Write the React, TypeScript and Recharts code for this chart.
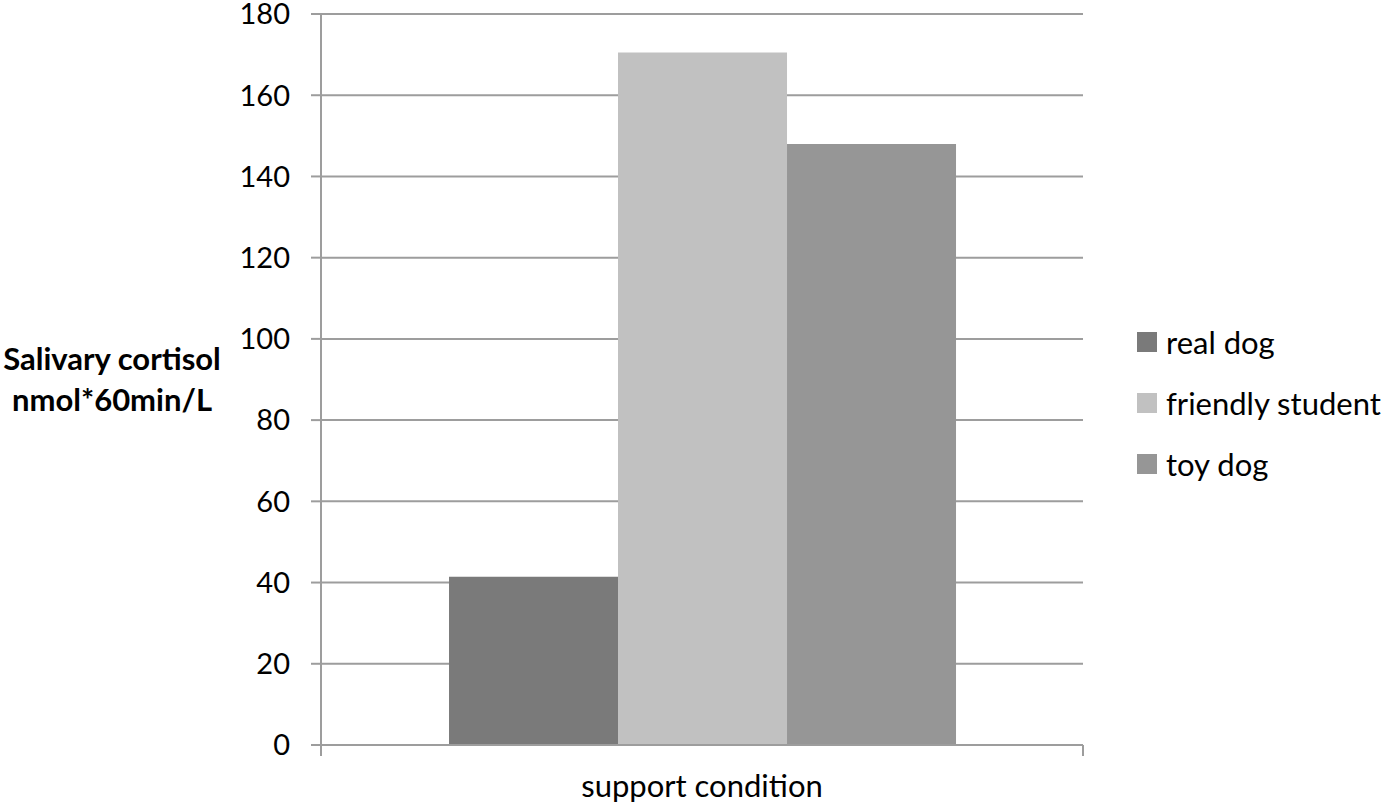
import {
  BarChart,
  Bar,
  XAxis,
  YAxis,
  CartesianGrid,
  Legend,
  Label
} from 'recharts'

const categories = ['support condition']
const seriesNames = ['real dog', 'friendly student', 'toy dog']
const seriesKeys = ['realDog', 'friendlyStudent', 'toyDog']
const seriesColors = ['#7a7a7a', '#c1c1c1', '#969696']
const realDog = [41.4]
const friendlyStudent = [170.5]
const toyDog = [148.0]
const yTicks = [0, 20, 40, 60, 80, 100, 120, 140, 160, 180]
const yTitle = ['Salivary cortisol', 'nmol*60min/L']

const seriesValues = [realDog, friendlyStudent, toyDog]

const data = categories.map((c, i) => {
  const row: Record<string, string | number> = { condition: c }
  seriesKeys.forEach((k, s) => {
    row[k] = seriesValues[s][i]
  })
  return row
})

const FONT = 'Lato, "Open Sans", sans-serif'
const GRID = '#9d9d9d'

// Excel style: tick marks at the category edges, label under the centre
const CategoryTick = (props: any) => {
  const { x, y, payload } = props
  const half = payload?.offset ?? 0
  return (
    <g>
      {half > 0 && (
        <>
          <line x1={x - half} x2={x - half} y1={y} y2={y + 11} stroke={GRID} strokeWidth={2} />
          <line x1={x + half} x2={x + half} y1={y} y2={y + 11} stroke={GRID} strokeWidth={2} />
        </>
      )}
      <text x={x} y={y + 52} textAnchor='middle' fontSize={31} fill='#000' fontFamily={FONT}>
        {payload.value}
      </text>
    </g>
  )
}

const YTitle = (props: any) => {
  const vb = props.viewBox || {}
  const cy = (vb.y ?? 0) + (vb.height ?? 0) / 2
  return (
    <text x={112} y={cy} textAnchor='middle' fontSize={31} fontWeight={700} fill='#000' fontFamily={FONT}>
      <tspan x={112} dy={-10}>{yTitle[0]}</tspan>
      <tspan x={112} dy={41}>{yTitle[1]}</tspan>
    </text>
  )
}

const LegendBox = (props: any) => {
  const items = [...(props.payload || [])].sort(
    (a: any, b: any) => seriesNames.indexOf(a.value) - seriesNames.indexOf(b.value)
  )
  return (
    <div style={{ fontFamily: FONT, fontSize: 31, color: '#000' }}>
      {items.map((it: any) => (
        <div
          key={it.value}
          style={{ height: 61, display: 'flex', alignItems: 'center', whiteSpace: 'nowrap' }}
        >
          <span style={{ width: 20, height: 20, background: it.color, marginRight: 9, display: 'inline-block' }} />
          <span>{it.value}</span>
        </div>
      ))}
    </div>
  )
}

export default function App() {
  return (
    <div style={{ position: 'absolute', left: 0, top: 0, background: '#fff' }}>
      <BarChart
        width={1385}
        height={808}
        data={data}
        margin={{ top: 14, right: 54, left: 0, bottom: 23 }}
        barCategoryGap='16.8%'
        barGap={0}
      >
        <CartesianGrid vertical={false} stroke={GRID} strokeWidth={2} />
        <XAxis
          dataKey='condition'
          height={40}
          tickSize={0}
          tickMargin={0}
          axisLine={{ stroke: GRID, strokeWidth: 2 }}
          tick={<CategoryTick />}
        />
        <YAxis
          width={321}
          domain={[0, 180]}
          ticks={yTicks}
          interval={0}
          tickSize={10}
          tickMargin={21}
          axisLine={{ stroke: GRID, strokeWidth: 2 }}
          tickLine={{ stroke: GRID, strokeWidth: 2 }}
          tick={{ fill: '#000', fontSize: 29, fontFamily: FONT }}
        >
          <Label content={<YTitle />} />
        </YAxis>
        <Legend
          layout='vertical'
          align='right'
          verticalAlign='middle'
          width={248}
          wrapperStyle={{ left: 1137, top: 311 }}
          content={<LegendBox />}
        />
        {seriesKeys.map((k, i) => (
          <Bar
            key={k}
            dataKey={k}
            name={seriesNames[i]}
            fill={seriesColors[i]}
            isAnimationActive={false}
          />
        ))}
      </BarChart>
    </div>
  )
}
